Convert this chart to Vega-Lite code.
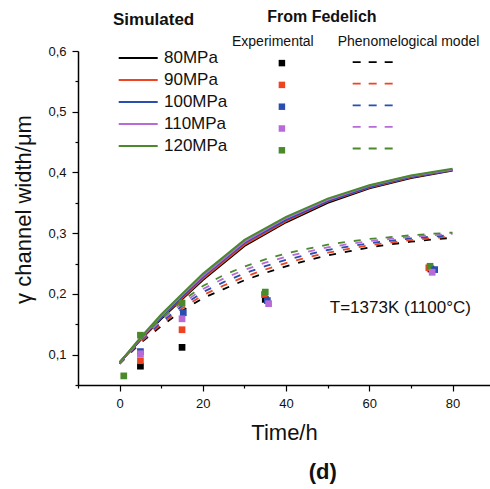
{
  "$schema": "https://vega.github.io/schema/vega-lite/v6.json",
  "width": 412,
  "height": 334,
  "autosize": {"type": "none"},
  "padding": {"left": 78, "top": 51, "right": 0, "bottom": 104},
  "background": "white",
  "config": {
    "view": {"stroke": null},
    "font": "Liberation Sans",
    "axis": {"grid": false, "domainColor": "#000", "domainWidth": 1.5, "tickColor": "#000", "tickWidth": 1.2, "labelColor": "#111", "labelFontSize": 13, "titleFontSize": 22, "titleFontWeight": "normal", "titleColor": "#111"},
    "legend": {"padding": 0, "labelColor": "#111", "titleColor": "#111"}
  },
  "resolve": {"axis": {"x": "independent", "y": "independent"}},
  "datasets": {
    "sim": [
      {"p": "80MPa", "t": 0, "w": 0.087}, {"p": "80MPa", "t": 5, "w": 0.124}, {"p": "80MPa", "t": 10, "w": 0.159}, {"p": "80MPa", "t": 15, "w": 0.191}, {"p": "80MPa", "t": 20, "w": 0.223}, {"p": "80MPa", "t": 30, "w": 0.279}, {"p": "80MPa", "t": 40, "w": 0.318}, {"p": "80MPa", "t": 50, "w": 0.35}, {"p": "80MPa", "t": 60, "w": 0.374}, {"p": "80MPa", "t": 70, "w": 0.391}, {"p": "80MPa", "t": 80, "w": 0.403},
      {"p": "90MPa", "t": 0, "w": 0.087}, {"p": "90MPa", "t": 5, "w": 0.125}, {"p": "90MPa", "t": 10, "w": 0.161}, {"p": "90MPa", "t": 15, "w": 0.193}, {"p": "90MPa", "t": 20, "w": 0.225}, {"p": "90MPa", "t": 30, "w": 0.281}, {"p": "90MPa", "t": 40, "w": 0.32}, {"p": "90MPa", "t": 50, "w": 0.352}, {"p": "90MPa", "t": 60, "w": 0.375}, {"p": "90MPa", "t": 70, "w": 0.392}, {"p": "90MPa", "t": 80, "w": 0.404},
      {"p": "100MPa", "t": 0, "w": 0.087}, {"p": "100MPa", "t": 5, "w": 0.126}, {"p": "100MPa", "t": 10, "w": 0.162}, {"p": "100MPa", "t": 15, "w": 0.195}, {"p": "100MPa", "t": 20, "w": 0.228}, {"p": "100MPa", "t": 30, "w": 0.284}, {"p": "100MPa", "t": 40, "w": 0.322}, {"p": "100MPa", "t": 50, "w": 0.353}, {"p": "100MPa", "t": 60, "w": 0.376}, {"p": "100MPa", "t": 70, "w": 0.393}, {"p": "100MPa", "t": 80, "w": 0.404},
      {"p": "110MPa", "t": 0, "w": 0.087}, {"p": "110MPa", "t": 5, "w": 0.127}, {"p": "110MPa", "t": 10, "w": 0.164}, {"p": "110MPa", "t": 15, "w": 0.198}, {"p": "110MPa", "t": 20, "w": 0.23}, {"p": "110MPa", "t": 30, "w": 0.286}, {"p": "110MPa", "t": 40, "w": 0.325}, {"p": "110MPa", "t": 50, "w": 0.355}, {"p": "110MPa", "t": 60, "w": 0.378}, {"p": "110MPa", "t": 70, "w": 0.394}, {"p": "110MPa", "t": 80, "w": 0.405},
      {"p": "120MPa", "t": 0, "w": 0.087}, {"p": "120MPa", "t": 5, "w": 0.128}, {"p": "120MPa", "t": 10, "w": 0.166}, {"p": "120MPa", "t": 15, "w": 0.2}, {"p": "120MPa", "t": 20, "w": 0.233}, {"p": "120MPa", "t": 30, "w": 0.289}, {"p": "120MPa", "t": 40, "w": 0.327}, {"p": "120MPa", "t": 50, "w": 0.357}, {"p": "120MPa", "t": 60, "w": 0.379}, {"p": "120MPa", "t": 70, "w": 0.395}, {"p": "120MPa", "t": 80, "w": 0.406}
    ],
    "phen": [
      {"q": "P80", "t": 0, "w": 0.085}, {"q": "P80", "t": 5, "w": 0.119}, {"q": "P80", "t": 10, "w": 0.147}, {"q": "P80", "t": 15, "w": 0.172}, {"q": "P80", "t": 20, "w": 0.193}, {"q": "P80", "t": 25, "w": 0.208}, {"q": "P80", "t": 30, "w": 0.2225}, {"q": "P80", "t": 35, "w": 0.2345}, {"q": "P80", "t": 40, "w": 0.2455}, {"q": "P80", "t": 45, "w": 0.255}, {"q": "P80", "t": 50, "w": 0.2635}, {"q": "P80", "t": 55, "w": 0.27}, {"q": "P80", "t": 60, "w": 0.2765}, {"q": "P80", "t": 65, "w": 0.2815}, {"q": "P80", "t": 70, "w": 0.286}, {"q": "P80", "t": 75, "w": 0.2895}, {"q": "P80", "t": 80, "w": 0.2925},
      {"q": "P90", "t": 0, "w": 0.085}, {"q": "P90", "t": 5, "w": 0.1208}, {"q": "P90", "t": 10, "w": 0.1503}, {"q": "P90", "t": 15, "w": 0.176}, {"q": "P90", "t": 20, "w": 0.198}, {"q": "P90", "t": 25, "w": 0.2138}, {"q": "P90", "t": 30, "w": 0.2281}, {"q": "P90", "t": 35, "w": 0.2401}, {"q": "P90", "t": 40, "w": 0.2508}, {"q": "P90", "t": 45, "w": 0.2598}, {"q": "P90", "t": 50, "w": 0.2679}, {"q": "P90", "t": 55, "w": 0.274}, {"q": "P90", "t": 60, "w": 0.28}, {"q": "P90", "t": 65, "w": 0.2845}, {"q": "P90", "t": 70, "w": 0.2886}, {"q": "P90", "t": 75, "w": 0.2919}, {"q": "P90", "t": 80, "w": 0.2946},
      {"q": "P100", "t": 0, "w": 0.086}, {"q": "P100", "t": 5, "w": 0.1225}, {"q": "P100", "t": 10, "w": 0.1535}, {"q": "P100", "t": 15, "w": 0.18}, {"q": "P100", "t": 20, "w": 0.203}, {"q": "P100", "t": 25, "w": 0.2195}, {"q": "P100", "t": 30, "w": 0.2338}, {"q": "P100", "t": 35, "w": 0.2458}, {"q": "P100", "t": 40, "w": 0.256}, {"q": "P100", "t": 45, "w": 0.2645}, {"q": "P100", "t": 50, "w": 0.2723}, {"q": "P100", "t": 55, "w": 0.278}, {"q": "P100", "t": 60, "w": 0.2835}, {"q": "P100", "t": 65, "w": 0.2875}, {"q": "P100", "t": 70, "w": 0.2913}, {"q": "P100", "t": 75, "w": 0.2943}, {"q": "P100", "t": 80, "w": 0.2968},
      {"q": "P110", "t": 0, "w": 0.086}, {"q": "P110", "t": 5, "w": 0.1243}, {"q": "P110", "t": 10, "w": 0.1568}, {"q": "P110", "t": 15, "w": 0.184}, {"q": "P110", "t": 20, "w": 0.208}, {"q": "P110", "t": 25, "w": 0.2253}, {"q": "P110", "t": 30, "w": 0.2394}, {"q": "P110", "t": 35, "w": 0.2514}, {"q": "P110", "t": 40, "w": 0.2613}, {"q": "P110", "t": 45, "w": 0.2693}, {"q": "P110", "t": 50, "w": 0.2766}, {"q": "P110", "t": 55, "w": 0.282}, {"q": "P110", "t": 60, "w": 0.287}, {"q": "P110", "t": 65, "w": 0.2905}, {"q": "P110", "t": 70, "w": 0.2939}, {"q": "P110", "t": 75, "w": 0.2966}, {"q": "P110", "t": 80, "w": 0.2989},
      {"q": "P120", "t": 0, "w": 0.087}, {"q": "P120", "t": 5, "w": 0.126}, {"q": "P120", "t": 10, "w": 0.16}, {"q": "P120", "t": 15, "w": 0.188}, {"q": "P120", "t": 20, "w": 0.213}, {"q": "P120", "t": 25, "w": 0.231}, {"q": "P120", "t": 30, "w": 0.245}, {"q": "P120", "t": 35, "w": 0.257}, {"q": "P120", "t": 40, "w": 0.2665}, {"q": "P120", "t": 45, "w": 0.274}, {"q": "P120", "t": 50, "w": 0.281}, {"q": "P120", "t": 55, "w": 0.286}, {"q": "P120", "t": 60, "w": 0.2905}, {"q": "P120", "t": 65, "w": 0.2935}, {"q": "P120", "t": 70, "w": 0.2965}, {"q": "P120", "t": 75, "w": 0.299}, {"q": "P120", "t": 80, "w": 0.301}
    ],
    "exp": [
      {"e": "E120", "t": 1, "w": 0.065},
      {"e": "E80", "t": 5, "w": 0.081}, {"e": "E90", "t": 5, "w": 0.09}, {"e": "E120", "t": 5, "w": 0.132}, {"e": "E100", "t": 5, "w": 0.105}, {"e": "E110", "t": 5, "w": 0.1015},
      {"e": "E80", "t": 15, "w": 0.112}, {"e": "E90", "t": 15, "w": 0.141}, {"e": "E120", "t": 15, "w": 0.185}, {"e": "E100", "t": 15.3, "w": 0.169}, {"e": "E110", "t": 15, "w": 0.159},
      {"e": "E80", "t": 35, "w": 0.191}, {"e": "E90", "t": 34.8, "w": 0.199}, {"e": "E120", "t": 35, "w": 0.203}, {"e": "E100", "t": 35.5, "w": 0.189}, {"e": "E110", "t": 35.8, "w": 0.184},
      {"e": "E80", "t": 74.8, "w": 0.241}, {"e": "E90", "t": 74.3, "w": 0.243}, {"e": "E120", "t": 74.6, "w": 0.2455}, {"e": "E100", "t": 75.7, "w": 0.24}, {"e": "E110", "t": 75.1, "w": 0.2356}
    ]
  },
  "layer": [
    {
      "data": {"name": "sim"},
      "mark": {"type": "line", "strokeWidth": 2},
      "encoding": {
        "x": {"field": "t", "type": "quantitative", "scale": {"domain": [-10, 89], "nice": false, "zero": false},
          "axis": {"orient": "bottom", "title": "Time/h", "values": [0, 20, 40, 60, 80], "tickSize": 6,
            "labelPadding": 6, "titlePadding": 12, "labelFlush": false}},
        "y": {"field": "w", "type": "quantitative", "scale": {"domain": [0.05, 0.6], "nice": false, "zero": false},
          "axis": {"orient": "left", "title": "γ channel width/μm", "values": [0.1, 0.2, 0.3, 0.4, 0.5, 0.6], "tickSize": 6,
            "labelExpr": "replace(format(datum.value, '.1f'), '.', ',')",
            "labelPadding": 6, "titlePadding": 12, "titleY": 158, "labelFlush": false}},
        "stroke": {"field": "p", "type": "nominal",
          "scale": {"domain": ["80MPa", "90MPa", "100MPa", "110MPa", "120MPa"], "range": ["#000000", "#ee4422", "#2a4db0", "#b86ad8", "#4a8a2c"]},
          "legend": {"orient": "none", "legendX": 35, "legendY": -39.5, "title": "Simulated", "titleFontSize": 17, "titleFontWeight": "bold", "titlePadding": 21,
            "labelFontSize": 17, "symbolType": "M-3,0H3", "symbolSize": 169, "symbolStrokeWidth": 2, "symbolOffset": 16.7, "labelOffset": 17.3, "rowPadding": 4}}
      }
    },
    {
      "data": {"name": "phen"},
      "mark": {"type": "line", "strokeWidth": 1.8, "strokeDash": [7, 9]},
      "encoding": {
        "x": {"field": "t", "type": "quantitative",
          "axis": {"orient": "bottom", "title": null, "values": [-10, 10, 30, 50, 70], "tickSize": 3, "labels": false, "domain": false}},
        "y": {"field": "w", "type": "quantitative",
          "axis": {"orient": "left", "title": null, "values": [0.05, 0.15, 0.25, 0.35, 0.45, 0.55], "tickSize": 3, "labels": false, "domain": false}},
        "color": {"field": "q", "type": "nominal",
          "scale": {"domain": ["P80", "P90", "P100", "P110", "P120"], "range": ["#000000", "#ee4422", "#2a4db0", "#b86ad8", "#4a8a2c"]},
          "legend": {"orient": "none", "legendX": 259.7, "legendY": -16.4, "title": "Phenomelogical model", "titleFontSize": 14, "titleFontWeight": "normal", "titlePadding": 5,
            "labelFontSize": 17, "labelExpr": "''", "symbolType": "M-3.08,0H3.08", "symbolSize": 169, "symbolStrokeWidth": 1.8, "symbolDash": [8, 8], "symbolOffset": 26.5, "rowPadding": 3.6}}
      }
    },
    {
      "data": {"name": "exp"},
      "mark": {"type": "square", "filled": true, "size": 45, "opacity": 1},
      "encoding": {
        "x": {"field": "t", "type": "quantitative", "axis": null},
        "y": {"field": "w", "type": "quantitative", "axis": null},
        "fill": {"field": "e", "type": "nominal",
          "scale": {"domain": ["E80", "E90", "E100", "E110", "E120"], "range": ["#000000", "#ee4422", "#2a4db0", "#b86ad8", "#4a8a2c"]},
          "legend": {"orient": "none", "legendX": 154, "legendY": -16.4, "title": "Experimental", "titleFontSize": 14, "titleFontWeight": "normal", "titlePadding": 6,
            "labelFontSize": 17, "labelExpr": "''", "symbolType": "square", "symbolSize": 42, "symbolStrokeWidth": 0, "symbolOpacity": 1, "symbolOffset": 41.4, "rowPadding": 3.8}}
      }
    },
    {
      "data": {"values": [{}]},
      "mark": {"type": "text", "text": "From Fedelich", "fontSize": 16, "fontWeight": "bold", "align": "center", "baseline": "alphabetic", "color": "#111"},
      "encoding": {"x": {"datum": 48.6, "axis": null}, "y": {"datum": 0.6474, "axis": null}}
    },
    {
      "data": {"values": [{}]},
      "mark": {"type": "text", "text": "T=1373K (1100°C)", "fontSize": 17, "align": "left", "baseline": "alphabetic", "color": "#111"},
      "encoding": {"x": {"datum": 50.5, "axis": null}, "y": {"datum": 0.168, "axis": null}}
    },
    {
      "data": {"values": [{}]},
      "mark": {"type": "text", "text": "(d)", "fontSize": 22, "fontWeight": "bold", "align": "center", "baseline": "alphabetic", "color": "#111"},
      "encoding": {"x": {"datum": 48.8, "axis": null}, "y": {"datum": -0.1056, "axis": null}}
    }
  ]
}
